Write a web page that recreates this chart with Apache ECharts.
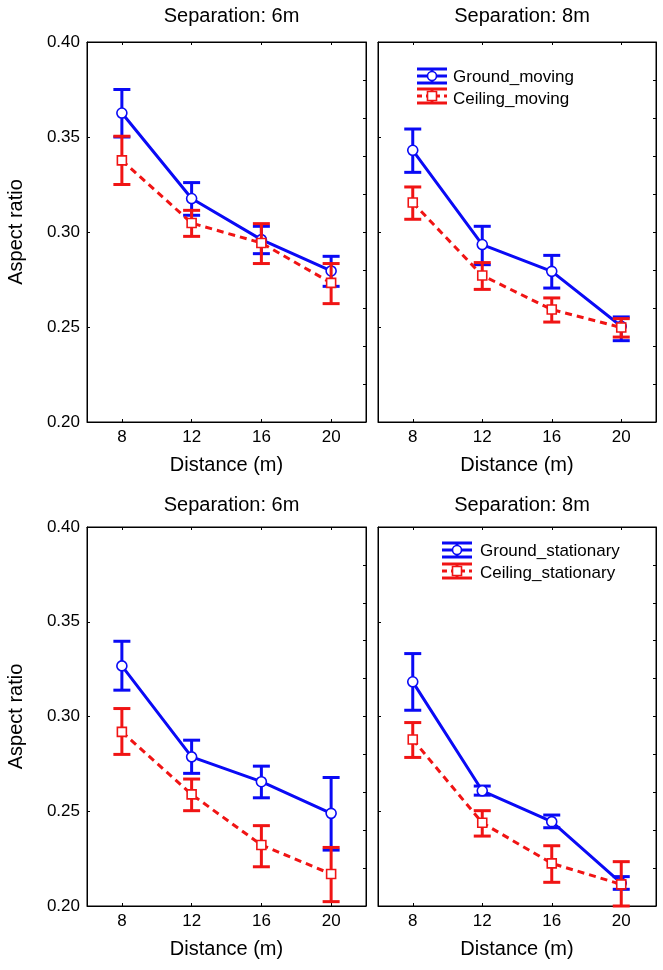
<!DOCTYPE html>
<html>
<head>
<meta charset="utf-8">
<script src="https://cdn.jsdelivr.net/npm/echarts@6/dist/echarts.min.js"></script>
<style>html,body{margin:0;padding:0;background:#fff;}#chart{width:663px;height:970px;}</style>
</head>
<body>
<div id="chart"></div>
<script>
const distances = [8, 12, 16, 20];
const yTickLabels = ['0.20', '0.25', '0.30', '0.35', '0.40'];
const panelTitles = ['Separation: 6m', 'Separation: 8m', 'Separation: 6m', 'Separation: 8m'];
const legendNames = ['Ground_moving', 'Ceiling_moving', 'Ground_stationary', 'Ceiling_stationary'];

// Top-left: moving, separation 6m
const groundMoving6 = [0.3626, 0.3176, 0.2960, 0.2795];
const groundMoving6Lo = [0.3500, 0.3088, 0.2886, 0.2714];
const groundMoving6Hi = [0.3750, 0.3260, 0.3030, 0.2872];
const ceilingMoving6 = [0.3377, 0.3047, 0.2942, 0.2732];
const ceilingMoving6Lo = [0.3250, 0.2977, 0.2834, 0.2623];
const ceilingMoving6Hi = [0.3504, 0.3114, 0.3044, 0.2834];
// Top-right: moving, separation 8m
const groundMoving8 = [0.3430, 0.2934, 0.2793, 0.2504];
const groundMoving8Lo = [0.3314, 0.2828, 0.2705, 0.2428];
const groundMoving8Hi = [0.3542, 0.3030, 0.2877, 0.2553];
const ceilingMoving8 = [0.3155, 0.2771, 0.2592, 0.2497];
const ceilingMoving8Lo = [0.3067, 0.2698, 0.2526, 0.2447];
const ceilingMoving8Hi = [0.3237, 0.2839, 0.2653, 0.2544];
// Bottom-left: stationary, separation 6m
const groundStat6 = [0.3267, 0.2787, 0.2656, 0.2489];
const groundStat6Lo = [0.3139, 0.2700, 0.2571, 0.2295];
const groundStat6Hi = [0.3397, 0.2875, 0.2738, 0.2678];
const ceilingStat6 = [0.2919, 0.2589, 0.2322, 0.2169];
const ceilingStat6Lo = [0.2800, 0.2503, 0.2207, 0.2023];
const ceilingStat6Hi = [0.3042, 0.2670, 0.2424, 0.2309];
// Bottom-right: stationary, separation 8m
const groundStat8 = [0.3183, 0.2608, 0.2445, 0.2121];
const groundStat8Lo = [0.3033, 0.2585, 0.2413, 0.2088];
const groundStat8Hi = [0.3332, 0.2633, 0.2480, 0.2155];
const ceilingStat8 = [0.2879, 0.2439, 0.2225, 0.2114];
const ceilingStat8Lo = [0.2784, 0.2369, 0.2125, 0.2000];
const ceilingStat8Hi = [0.2968, 0.2503, 0.2318, 0.2234];

const BLUE = '#0a0af5';
const RED = '#f01414';
const FONT = 'Liberation Sans, Arial, Helvetica, sans-serif';

const panels = [
  {g: [groundMoving6, groundMoving6Lo, groundMoving6Hi], c: [ceilingMoving6, ceilingMoving6Lo, ceilingMoving6Hi]},
  {g: [groundMoving8, groundMoving8Lo, groundMoving8Hi], c: [ceilingMoving8, ceilingMoving8Lo, ceilingMoving8Hi]},
  {g: [groundStat6, groundStat6Lo, groundStat6Hi], c: [ceilingStat6, ceilingStat6Lo, ceilingStat6Hi]},
  {g: [groundStat8, groundStat8Lo, groundStat8Hi], c: [ceilingStat8, ceilingStat8Lo, ceilingStat8Hi]}
];

const gridPos = [
  {left: 87, top: 42, width: 279, height: 380},
  {left: 378, top: 42, width: 278, height: 380},
  {left: 87, top: 527, width: 279, height: 379},
  {left: 378, top: 527, width: 278, height: 379}
];

function errRender(color) {
  return function (params, api) {
    const x = api.value(0), lo = api.value(1), hi = api.value(2);
    const a = api.coord([x, hi]), b = api.coord([x, lo]);
    const w = 8.5;
    const style = {stroke: color, lineWidth: 3, fill: null};
    return {type: 'group', children: [
      {type: 'line', shape: {x1: a[0], y1: a[1], x2: b[0], y2: b[1]}, style: style},
      {type: 'line', shape: {x1: a[0] - w, y1: a[1], x2: a[0] + w, y2: a[1]}, style: style},
      {type: 'line', shape: {x1: b[0] - w, y1: b[1], x2: b[0] + w, y2: b[1]}, style: style}
    ]};
  };
}

const grid = [], xAxis = [], yAxis = [], series = [], title = [];
const axisLineStyle = {color: '#000', width: 1};
panels.forEach(function (p, i) {
  const gp = gridPos[i];
  grid.push(Object.assign({show: true, borderColor: '#000', borderWidth: 1, backgroundColor: '#fff'}, gp));
  title.push({
    text: panelTitles[i], left: gp.left + gp.width / 2, top: i < 2 ? 1 : 490, textAlign: 'center',
    textStyle: {fontFamily: FONT, fontSize: 20, fontWeight: 'normal', color: '#000'}
  });
  // bottom x axis
  xAxis.push({
    type: 'value', gridIndex: i, min: 6, max: 22, position: 'bottom',
    axisLine: {show: true, onZero: false, lineStyle: axisLineStyle},
    axisTick: {show: true, inside: true, length: 3, customValues: distances, lineStyle: axisLineStyle},
    axisLabel: {show: true, customValues: distances, margin: 7, fontSize: 17, color: '#000', fontFamily: FONT},
    splitLine: {show: false},
    name: 'Distance (m)', nameLocation: 'middle', nameGap: 33,
    nameTextStyle: {fontSize: 20, color: '#000', fontFamily: FONT}
  });
  // top x axis (ticks only)
  xAxis.push({
    type: 'value', gridIndex: i, min: 6, max: 22, position: 'top',
    axisLine: {show: true, onZero: false, lineStyle: axisLineStyle},
    axisTick: {show: true, inside: true, length: 3, customValues: distances, lineStyle: axisLineStyle},
    axisLabel: {show: false}, splitLine: {show: false}
  });
  const isLeft = (i % 2 === 0);
  yAxis.push({
    type: 'value', gridIndex: i, min: 0.2, max: 0.4, interval: 0.05, position: 'left',
    axisLine: {show: true, onZero: false, lineStyle: axisLineStyle},
    axisTick: {show: true, inside: true, length: 3, lineStyle: axisLineStyle},
    axisLabel: {show: isLeft, margin: 7, fontSize: 17, color: '#000', fontFamily: FONT,
      formatter: function (v) { return yTickLabels[Math.round((v - 0.2) / 0.05)]; }},
    splitLine: {show: false},
    name: isLeft ? 'Aspect ratio' : '', nameLocation: 'middle', nameGap: 61,
    nameTextStyle: {fontSize: 20, color: '#000', fontFamily: FONT}
  });
  yAxis.push({
    type: 'value', gridIndex: i, min: 0.2, max: 0.4, interval: 0.02, position: 'right',
    axisLine: {show: true, onZero: false, lineStyle: axisLineStyle},
    axisTick: {show: true, inside: true, length: 3, lineStyle: axisLineStyle},
    axisLabel: {show: false}, splitLine: {show: false}
  });
  const xi = i * 2, yi = i * 2;
  const mk = function (arr) { return distances.map(function (d, k) { return [d, arr[1][k], arr[2][k]]; }); };
  const pts = function (arr) { return distances.map(function (d, k) { return [d, arr[0][k]]; }); };
  series.push({
    type: 'custom', xAxisIndex: xi, yAxisIndex: yi, renderItem: errRender(BLUE),
    data: mk(p.g), encode: {x: 0, y: [1, 2]}, z: 2, silent: true
  });
  series.push({
    type: 'line', xAxisIndex: xi, yAxisIndex: yi, data: pts(p.g), z: 3,
    symbol: 'circle', symbolSize: 10, showSymbol: true,
    lineStyle: {color: BLUE, width: 3},
    itemStyle: {color: '#fff', borderColor: BLUE, borderWidth: 1.6},
    animation: false, silent: true
  });
  series.push({
    type: 'custom', xAxisIndex: xi, yAxisIndex: yi, renderItem: errRender(RED),
    data: mk(p.c), encode: {x: 0, y: [1, 2]}, z: 4, silent: true
  });
  series.push({
    type: 'line', xAxisIndex: xi, yAxisIndex: yi, data: pts(p.c), z: 5,
    symbol: 'rect', symbolSize: 9, showSymbol: true,
    lineStyle: {color: RED, width: 3, type: [7, 5]},
    itemStyle: {color: '#fff', borderColor: RED, borderWidth: 1.6},
    animation: false, silent: true
  });
});

function legendIcon(cx, cy, color, dashed, marker) {
  const half = 15, cap = 7;
  const s = {stroke: color, lineWidth: 3};
  const els = [
    {type: 'line', shape: {x1: cx - half, y1: cy - cap, x2: cx + half, y2: cy - cap}, style: s},
    {type: 'line', shape: {x1: cx - half, y1: cy + cap, x2: cx + half, y2: cy + cap}, style: s},
    {type: 'line', shape: {x1: cx, y1: cy - cap, x2: cx, y2: cy + cap}, style: s},
    {type: 'line', shape: {x1: cx - half, y1: cy, x2: cx + half, y2: cy},
      style: {stroke: color, lineWidth: 3, lineDash: dashed ? [5, 4] : null}}
  ];
  if (marker === 'circle') {
    els.push({type: 'circle', shape: {cx: cx, cy: cy, r: 4.5}, style: {fill: '#fff', stroke: color, lineWidth: 1.6}});
  } else {
    els.push({type: 'rect', shape: {x: cx - 4.5, y: cy - 4.5, width: 9, height: 9}, style: {fill: '#fff', stroke: color, lineWidth: 1.6}});
  }
  return els;
}
function legendText(x, y, t) {
  return {type: 'text', x: x, y: y, style: {text: t, fontSize: 17, fontFamily: FONT, fill: '#000', verticalAlign: 'middle', align: 'left'}};
}
const graphic = [].concat(
  legendIcon(432, 76, BLUE, false, 'circle'),
  legendIcon(432, 96, RED, true, 'rect'),
  [legendText(453, 77, legendNames[0]), legendText(453, 99, legendNames[1])],
  legendIcon(457, 550, BLUE, false, 'circle'),
  legendIcon(457, 571, RED, true, 'rect'),
  [legendText(480, 551, legendNames[2]), legendText(480, 573, legendNames[3])]
).map(function (e) { e.z = 100; return e; });

const chart = echarts.init(document.getElementById('chart'), null, {renderer: 'canvas'});
chart.setOption({
  animation: false,
  backgroundColor: '#fff',
  textStyle: {fontFamily: FONT},
  title: title, grid: grid, xAxis: xAxis, yAxis: yAxis, series: series, graphic: graphic
});
</script>
</body>
</html>
